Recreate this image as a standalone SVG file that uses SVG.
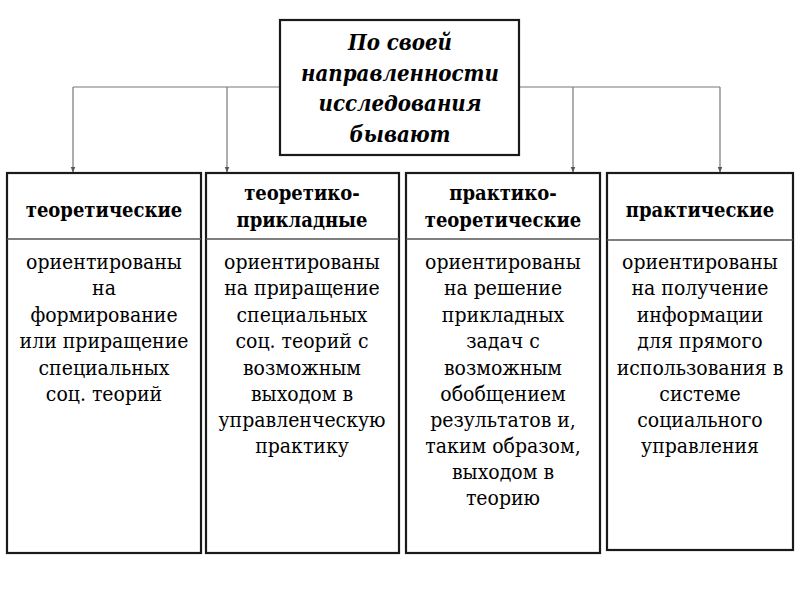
<svg xmlns="http://www.w3.org/2000/svg" width="800" height="600" viewBox="0 0 800 600">
<defs>
<marker id="arr" viewBox="0 0 10 10" refX="9" refY="5" markerWidth="5" markerHeight="5" orient="auto"><path d="M0,1 L10,5 L0,9 z" fill="#555"/></marker>
<style>
.box{fill:#fff;stroke:#1a1a1a;stroke-width:2.2}
.div{stroke:#555;stroke-width:1.5}
.conn{fill:none;stroke:#777;stroke-width:1.2}
text{font-family:"DejaVu Serif Condensed","DejaVu Serif",serif;font-stretch:condensed;fill:#000;text-anchor:middle}
.title{font-weight:bold;font-style:italic;font-size:22px}
.hd{font-weight:bold;font-size:20px}
.bd{font-size:21px}
</style>
</defs>
<rect width="800" height="600" fill="#fff"/>
<g id="connectors">
<path class="conn" d="M73,87 H720"/>
<path class="conn" d="M73,87 V172" marker-end="url(#arr)"/>
<path class="conn" d="M227,87 V172" marker-end="url(#arr)"/>
<path class="conn" d="M573,87 V172" marker-end="url(#arr)"/>
<path class="conn" d="M720,87 V172" marker-end="url(#arr)"/>
</g>
<g id="root">
<rect class="box" x="280" y="20" width="239" height="135"/>
<text class="title" x="400" y="50">По своей</text>
<text class="title" x="400" y="81">направленности</text>
<text class="title" x="400" y="111">исследования</text>
<text class="title" x="400" y="142">бывают</text>
</g>
<g id="n1">
<rect class="box" x="7" y="173" width="194" height="380"/>
<line class="div" x1="7" y1="239" x2="201" y2="239"/>
<text class="hd" x="104" y="217">теоретические</text>
<text class="bd" x="104" y="269">ориентированы</text>
<text class="bd" x="104" y="295">на</text>
<text class="bd" x="104" y="322">формирование</text>
<text class="bd" x="104" y="348">или приращение</text>
<text class="bd" x="104" y="375">специальных</text>
<text class="bd" x="104" y="401">соц. теорий</text>
</g>
<g id="n2">
<rect class="box" x="206" y="173" width="193" height="380"/>
<line class="div" x1="206" y1="239" x2="399" y2="239"/>
<text class="hd" x="302" y="200">теоретико-</text>
<text class="hd" x="302" y="227">прикладные</text>
<text class="bd" x="302" y="269">ориентированы</text>
<text class="bd" x="302" y="295">на приращение</text>
<text class="bd" x="302" y="322">специальных</text>
<text class="bd" x="302" y="348">соц. теорий с</text>
<text class="bd" x="302" y="375">возможным</text>
<text class="bd" x="302" y="401">выходом в</text>
<text class="bd" x="302" y="427">управленческую</text>
<text class="bd" x="302" y="453">практику</text>
</g>
<g id="n3">
<rect class="box" x="406" y="173" width="194" height="380"/>
<line class="div" x1="406" y1="239" x2="600" y2="239"/>
<text class="hd" x="503" y="200">практико-</text>
<text class="hd" x="503" y="227">теоретические</text>
<text class="bd" x="503" y="269">ориентированы</text>
<text class="bd" x="503" y="295">на решение</text>
<text class="bd" x="503" y="322">прикладных</text>
<text class="bd" x="503" y="348">задач с</text>
<text class="bd" x="503" y="375">возможным</text>
<text class="bd" x="503" y="401">обобщением</text>
<text class="bd" x="503" y="427">результатов и,</text>
<text class="bd" x="503" y="453">таким образом,</text>
<text class="bd" x="503" y="479">выходом в</text>
<text class="bd" x="503" y="505">теорию</text>
</g>
<g id="n4">
<rect class="box" x="607" y="173" width="186" height="377"/>
<line class="div" x1="607" y1="240" x2="793" y2="240"/>
<text class="hd" x="700" y="217">практические</text>
<text class="bd" x="700" y="269">ориентированы</text>
<text class="bd" x="700" y="295">на получение</text>
<text class="bd" x="700" y="322">информации</text>
<text class="bd" x="700" y="348">для прямого</text>
<text class="bd" x="700" y="375">использования в</text>
<text class="bd" x="700" y="401">системе</text>
<text class="bd" x="700" y="427">социального</text>
<text class="bd" x="700" y="453">управления</text>
</g>
</svg>
